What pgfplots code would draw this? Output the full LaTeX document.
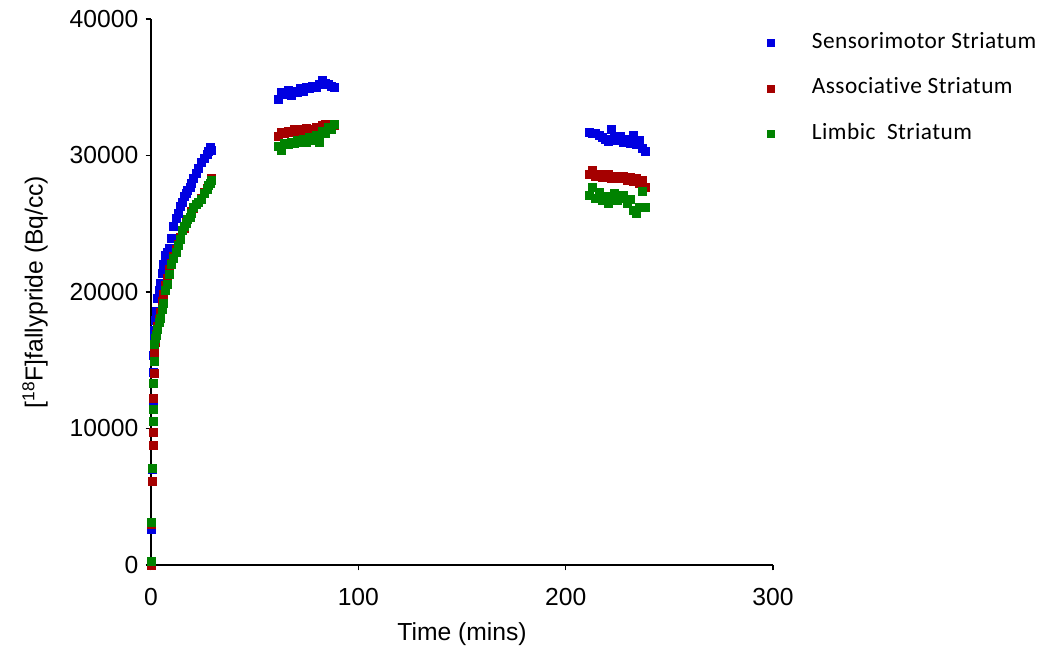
\documentclass[border=0pt]{standalone}
\usepackage{fontspec}
\setmainfont{Liberation Sans}
\newfontfamily\legfont[LetterSpace=2,Ligatures=NoCommon]{Carlito}
\usepackage{pgfplots}
\pgfplotsset{compat=1.18}
\definecolor{cB}{RGB}{0,0,225}
\definecolor{cR}{RGB}{165,0,0}
\definecolor{cG}{RGB}{0,130,0}
\begin{document}
\begin{tikzpicture}
\useasboundingbox (0,0) rectangle (783pt,490.5pt);
\begin{axis}[
  at={(113.25pt,66.75pt)}, anchor=south west,
  scale only axis, width=466.5pt, height=409.5pt,
  xmin=0, xmax=300, ymin=0, ymax=40000,
  axis x line*=bottom, axis y line*=left,
  axis line style={line width=1.3pt,-},
  every tick/.style={line width=1.1pt,black},
  tick align=outside, major tick length=4pt,
  xtick={0,100,200,300}, ytick={0,10000,20000,30000,40000},
  scaled y ticks=false,
  /pgf/number format/assume math mode=true,
  /pgf/number format/set thousands separator={},
  ticklabel style={font=\fontsize{18.5}{20}\selectfont},
  xticklabel style={yshift=-10pt},
  yticklabel style={xshift=-2pt},
  clip=false,
  xlabel={Time (mins)},
  ylabel={[\textsuperscript{18}F]fallypride (Bq/cc)},
  every axis x label/.style={at={(axis description cs:0.5,-0.1264)},anchor=center,font=\fontsize{18.5}{20}\selectfont},
  every axis y label/.style={at={(axis description cs:-0.1865,0.5)},anchor=center,rotate=90,font=\fontsize{18.5}{20}\selectfont},
  legend style={at={(axis description cs:0.991,0.976)}, anchor=north west, draw=none, fill=none,
     inner sep=0pt, row sep=18pt, column sep=0pt,
     font=\legfont\fontsize{17.5}{19}\selectfont,
     nodes={inner sep=0pt, text height=12pt, text depth=4pt, anchor=base west},
     /tikz/every odd column/.append style={column sep=28pt}},
  legend cell align=left,
  legend image code/.code={\draw[mark size=2.6pt] plot coordinates {(0pt,4pt)};},
]
\addplot[only marks, mark=square*, mark size=3pt, color=cB] coordinates {
(0.05,100)(0.3,2600)(0.6,7000)(0.9,11700)(1.1,14100)(1.3,15400)(1.5,16700)(1.8,17200)
(2.2,17950)(2.7,18560)(3.2,19540)(3.8,20100)(4.3,20640)(5.2,21370)(6.0,22000)(6.8,22710)
(7.7,22900)(8.7,23200)(9.6,23930)(10.8,24790)(12.1,25400)(13.2,25800)(14.3,26250)(15.2,26600)
(16.0,26980)(17.0,27200)(17.7,27470)(18.7,27700)(19.6,27960)(20.6,28300)(21.7,28700)(23.0,29100)
(24.4,29470)(25.7,29800)(26.9,30100)(27.7,30300)(28.5,30600)(29.3,30400)
(61.5,34100)(63,34600)(64.5,34500)(66,34800)(67.5,34400)(69,34700)(70.5,34600)(72,34900)
(73.5,34700)(75,35000)(76.5,34900)(78,35100)(79.5,35000)(81,35200)(82.5,35500)(84,35300)
(85.5,35200)(87,35100)(88.5,35000)
(211.5,31700)(213,31650)(214.5,31600)(216,31450)(217.5,31300)(219,31200)(220.5,31050)(222,31900)
(223.5,31300)(225,31100)(226.5,31400)(228,31000)(229.5,31200)(231,30900)(232.5,31500)(234,30800)
(235.5,31100)(237,30500)(238.5,30300)
};
\addlegendentry{Sensorimotor Striatum}
\addplot[only marks, mark=square*, mark size=3pt, color=cR] coordinates {
(0.05,0)(0.3,3000)(0.6,6100)(0.9,8800)(1.1,9700)(1.3,12200)(1.5,14070)(1.8,15500)
(2.2,16300)(2.7,16900)(3.2,17500)(3.8,18000)(4.3,18500)(5.2,19300)(6.0,19800)(6.8,20500)
(7.7,21000)(8.7,21700)(9.6,22100)(10.8,22600)(12.1,23100)(13.2,23500)(14.3,24000)(15.2,24500)
(16.0,24700)(17.0,25100)(17.7,25300)(18.7,25500)(19.6,25900)(20.6,26100)(21.7,26400)(23.0,26600)
(24.4,26900)(25.7,27300)(26.9,27600)(27.7,27800)(28.5,28000)(29.3,28300)
(61.5,31400)(63,31700)(64.5,31600)(66,31800)(67.5,31700)(69,31900)(70.5,31800)(72,31900)
(73.5,31800)(75,32000)(76.5,31900)(78,31900)(79.5,32100)(81,32000)(82.5,32200)(84,32300)
(85.5,32100)(87,32300)(88.5,32200)
(211.5,28600)(213,28900)(214.5,28500)(216,28600)(217.5,28400)(219,28500)(220.5,28600)(222,28300)
(223.5,28500)(225,28400)(226.5,28300)(228,28500)(229.5,28200)(231,28400)(232.5,28100)(234,28300)
(235.5,28000)(237,28200)(238.5,27700)
};
\addlegendentry{Associative Striatum}
\addplot[only marks, mark=square*, mark size=3pt, color=cG] coordinates {
(0.05,300)(0.3,3100)(0.6,7100)(0.9,10500)(1.1,11400)(1.3,13300)(1.5,14900)(1.8,16200)
(2.2,16600)(2.7,16800)(3.2,17300)(3.8,17800)(4.3,18100)(5.2,18700)(6.0,19200)(6.8,20100)
(7.7,20600)(8.7,21300)(9.6,22000)(10.8,22500)(12.1,22900)(13.2,23400)(14.3,23900)(15.2,24500)
(16.0,24800)(17.0,25000)(17.7,25300)(18.7,25500)(19.6,25800)(20.6,26200)(21.7,26400)(23.0,26600)
(24.4,26800)(25.7,27200)(26.9,27500)(27.7,27800)(28.5,28000)(29.3,28200)
(61.5,30700)(63,30400)(64.5,30900)(66,30800)(67.5,31000)(69,30900)(70.5,31100)(72,31000)
(73.5,31200)(75,31000)(76.5,31300)(78,31100)(79.5,31500)(81,31000)(82.5,31800)(84,31600)
(85.5,32100)(87,31900)(88.5,32300)
(211.5,27100)(213,27700)(214.5,26900)(216,27300)(217.5,26700)(219,27000)(220.5,26500)(222,26900)
(223.5,27200)(225,26700)(226.5,26900)(228,27100)(229.5,26500)(231,26800)(232.5,26000)(234,25800)
(235.5,26200)(237,27400)(238.5,26200)
};
\addlegendentry{Limbic\ \ Striatum}
\end{axis}
\end{tikzpicture}
\end{document}
